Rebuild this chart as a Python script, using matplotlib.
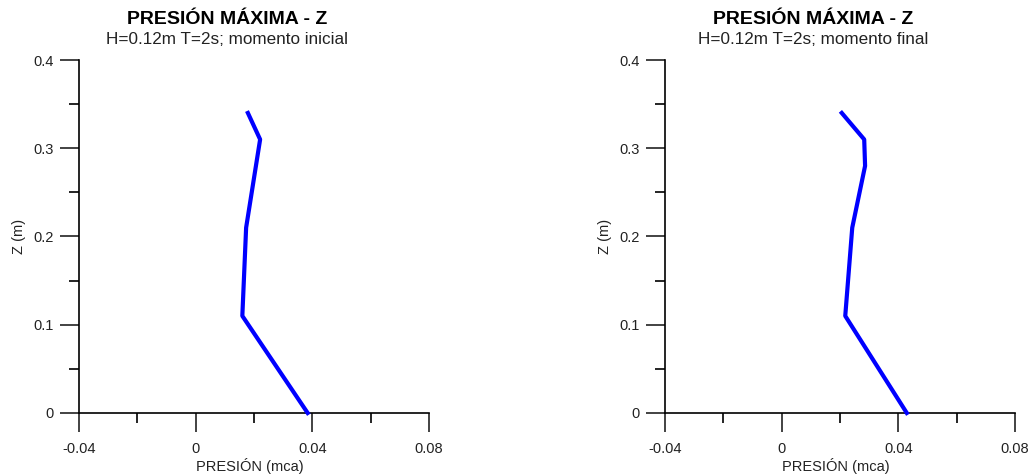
import matplotlib.pyplot as plt
from matplotlib.ticker import MultipleLocator, FuncFormatter

plt.rcParams['font.family'] = ['Liberation Sans', 'DejaVu Sans']
plt.rcParams['axes.unicode_minus'] = False

# profiles of maximum pressure vs depth
z_inicial = [0.0, 0.11, 0.21, 0.31, 0.34]
p_inicial = [0.0384, 0.016, 0.0173, 0.0221, 0.0179]

z_final = [0.0, 0.11, 0.21, 0.28, 0.31, 0.34]
p_final = [0.0429, 0.0218, 0.0242, 0.0286, 0.0283, 0.0206]

TITLE = 'PRESIÓN MÁXIMA - Z'
SUBTITLES = ['H=0.12m T=2s; momento inicial', 'H=0.12m T=2s; momento final']

W, H = 1033, 475
fig = plt.figure(figsize=(W / 100, H / 100), dpi=100)


def fmt(v, pos):
    return '{:g}'.format(round(v, 4))


def draw_panel(left_px, p, z, subtitle):
    ax = fig.add_axes([left_px / W, (H - 413) / H, 350 / W, 353 / H])
    ax.plot(p, z, color='#0000ff', lw=3.0, clip_on=False, zorder=5)
    ax.set_xlim(-0.04, 0.08)
    ax.set_ylim(0, 0.4)
    for s in ['top', 'right']:
        ax.spines[s].set_visible(False)
    for s in ['left', 'bottom']:
        ax.spines[s].set_linewidth(1.2)
    ax.xaxis.set_major_locator(MultipleLocator(0.04))
    ax.xaxis.set_minor_locator(MultipleLocator(0.02))
    ax.yaxis.set_major_locator(MultipleLocator(0.1))
    ax.yaxis.set_minor_locator(MultipleLocator(0.05))
    ax.xaxis.set_major_formatter(FuncFormatter(fmt))
    ax.yaxis.set_major_formatter(FuncFormatter(fmt))
    ax.tick_params(which='major', length=14, width=1.2, labelsize=10.5,
                   colors='#222222')
    ax.tick_params(which='minor', length=7, width=1.2)
    ax.tick_params(axis='x', which='major', pad=7)
    ax.tick_params(axis='y', which='major', pad=4)
    ax.set_xlabel('PRESIÓN (mca)', fontsize=10.5, color='#222222')
    ax.set_ylabel('Z (m)', fontsize=10.5, color='#222222')
    ax.xaxis.set_label_coords(0.489, -0.128)
    ax.yaxis.set_label_coords(-0.152, 0.5)
    cx = (left_px + 148) / W
    fig.text(cx, 1 - 19.5 / H, TITLE, ha='center', va='center',
             fontsize=14, fontweight='bold')
    fig.text(cx, 1 - 40 / H, subtitle, ha='center', va='center',
             fontsize=12.3, color='#222222')
    return ax


draw_panel(79, p_inicial, z_inicial, SUBTITLES[0])
draw_panel(665, p_final, z_final, SUBTITLES[1])

fig.savefig('out.png', dpi=100)
